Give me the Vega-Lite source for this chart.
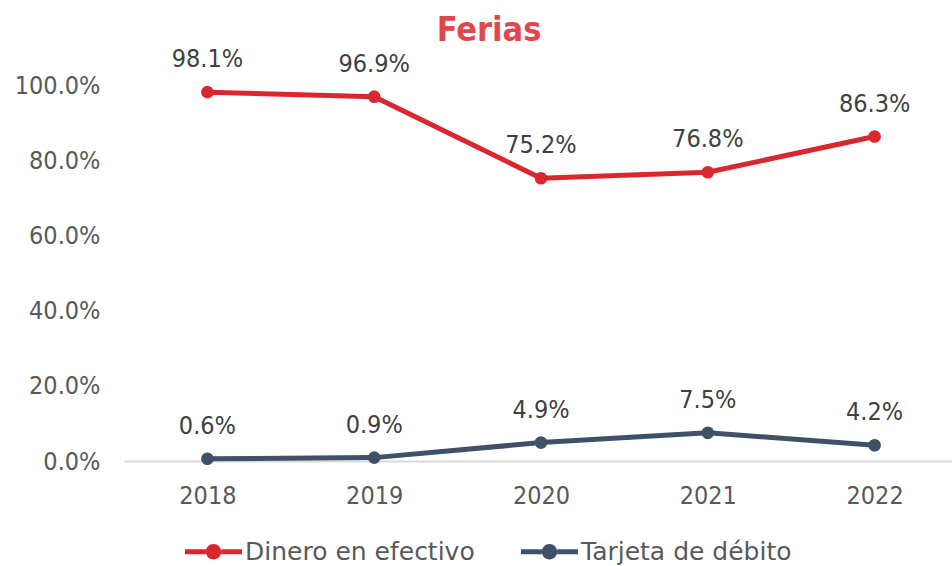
{
  "$schema": "https://vega.github.io/schema/vega-lite/v6.json",
  "autosize": {"type": "none"},
  "padding": {"left": 124, "top": 85, "right": 0, "bottom": 105},
  "width": 834,
  "height": 376,
  "background": "white",
  "config": {
    "view": {"stroke": null},
    "font": "DejaVu Sans Condensed, Liberation Sans Narrow, DejaVu Sans"
  },
  "title": {
    "text": "Ferias",
    "font": "DejaVu Sans Condensed, Liberation Sans Narrow, DejaVu Sans",
    "fontSize": 34,
    "fontWeight": "bold",
    "color": "#E0474C",
    "anchor": "middle",
    "frame": "group",
    "dx": -52,
    "baseline": "alphabetic",
    "offset": -28
  },
  "data": {
    "values": [
      {"year": "2018", "series": "Dinero en efectivo", "value": 0.981},
      {"year": "2019", "series": "Dinero en efectivo", "value": 0.969},
      {"year": "2020", "series": "Dinero en efectivo", "value": 0.752},
      {"year": "2021", "series": "Dinero en efectivo", "value": 0.768},
      {"year": "2022", "series": "Dinero en efectivo", "value": 0.863},
      {"year": "2018", "series": "Tarjeta de débito", "value": 0.006},
      {"year": "2019", "series": "Tarjeta de débito", "value": 0.009},
      {"year": "2020", "series": "Tarjeta de débito", "value": 0.049},
      {"year": "2021", "series": "Tarjeta de débito", "value": 0.075},
      {"year": "2022", "series": "Tarjeta de débito", "value": 0.042}
    ]
  },
  "encoding": {
    "x": {
      "field": "year", "type": "nominal",
      "scale": {"type": "point", "padding": 0.5},
      "axis": {
        "title": null, "labelAngle": 0, "ticks": false, "grid": false,
        "domainColor": "#D9D9D9", "domainWidth": 2,
        "labelFontSize": 25, "labelColor": "#595959", "labelPadding": 22
      }
    },
    "y": {
      "field": "value", "type": "quantitative",
      "scale": {"domain": [0, 1]},
      "axis": {
        "title": null, "format": ".1%", "values": [0, 0.2, 0.4, 0.6, 0.8, 1.0],
        "ticks": false, "domain": false, "grid": false,
        "labelFontSize": 25, "labelColor": "#595959", "labelPadding": 24
      }
    },
    "color": {
      "field": "series", "type": "nominal",
      "scale": {"domain": ["Dinero en efectivo", "Tarjeta de débito"], "range": ["#D9262F", "#3F5166"]},
      "legend": {
        "title": null,
        "orient": "none",
        "legendX": 61,
        "legendY": 438,
        "direction": "horizontal",
        "labelFont": "DejaVu Sans",
        "labelFontSize": 25,
        "labelColor": "#595959",
        "labelLimit": 400,
        "symbolType": "M-1,-0.088L-0.27,-0.088L-0.27,0.088L-1,0.088Z M0.27,-0.088L1,-0.088L1,0.088L0.27,0.088Z M0.27,0A0.27,0.27 0 1,1 -0.27,0A0.27,0.27 0 1,1 0.27,0Z",
        "symbolSize": 3249,
        "symbolStrokeWidth": 0,
        "labelOffset": 3,
        "columnPadding": 46,
        "encode": {
          "symbols": {"update": {"fill": {"scale": "color", "field": "value"}, "strokeWidth": {"value": 0}, "fillOpacity": {"value": 1}}}
        }
      }
    }
  },
  "layer": [
    {"mark": {"type": "line", "strokeWidth": 5, "clip": false}},
    {"mark": {"type": "point", "filled": true, "size": 160, "opacity": 1, "clip": false}},
    {
      "mark": {"type": "text", "dy": -33, "baseline": "middle", "fontSize": 25, "color": "#404040", "clip": false},
      "encoding": {
        "text": {"field": "value", "type": "quantitative", "format": ".1%"},
        "color": {"value": "#404040"}
      }
    }
  ]
}
